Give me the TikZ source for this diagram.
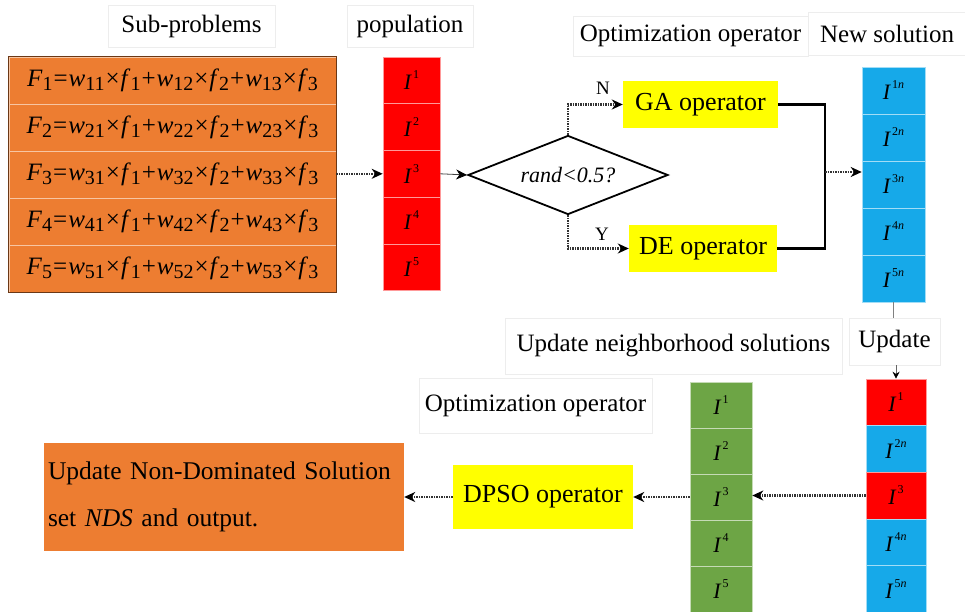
\documentclass[tikz,border=0pt]{standalone}
\usepackage{fontspec}
\setmainfont{Liberation Serif}
\usetikzlibrary{shapes.geometric,arrows.meta,calc}
\definecolor{cOrange}{HTML}{ED7D31}
\definecolor{cRed}{HTML}{FF0000}
\definecolor{cBlue}{HTML}{16A9E9}
\definecolor{cGreen}{HTML}{6DA545}
\definecolor{cYellow}{HTML}{FFFF00}
\definecolor{cDot}{HTML}{333333}
\newcommand{\Isup}[1]{\textit{I}\kern1pt\raisebox{0.5em}{\fontsize{12}{12}\selectfont #1}}
\newcommand{\sbs}[1]{\raisebox{-0.15em}{\fontsize{20}{20}\selectfont #1}}
\newcommand{\op}[1]{\kern1pt#1\kern1pt}
\begin{document}
\begin{tikzpicture}[x=1pt,y=-1pt,
  lbl/.style={draw=black!7, fill=white, font=\fontsize{25}{30}\selectfont, inner sep=0pt},
  orow/.style={fill=cOrange, draw=white!55!cOrange, line width=0.6pt, minimum width=327, minimum height=47, inner sep=0pt, font=\fontsize{25}{26}\selectfont},
  cellbox/.style={draw=white!60!#1, fill=#1, line width=0.6pt, inner sep=0pt, minimum height=46.7, font=\fontsize{22}{24}\selectfont},
  opbox/.style={fill=cYellow, inner sep=0pt, font=\fontsize{26}{30}\selectfont},
  dotarr/.style={draw=cDot, line width=2.2pt, dash pattern=on 1.5pt off 1pt, -{Stealth[length=11pt,width=10pt,inset=3.5pt,black]}},
  solarr/.style={draw=black!75, line width=0.8pt, -{Stealth[length=11pt,width=10pt,inset=3.5pt,black]}},
  yn/.style={font=\fontsize{19}{20}\selectfont, inner sep=0pt}
]
\useasboundingbox (0,0) rectangle (965,612);

% --- labels
\node[lbl, minimum width=167, minimum height=42] (Lsub) at (191.5,26) {Sub-problems};
\node[lbl, minimum width=126, minimum height=42] (Lpop) at (410,26) {population};
\node[lbl, minimum width=235, minimum height=40] (Lopt) at (690.5,36) {Optimization operator};
\node[lbl, minimum width=158, minimum height=43] (Lnew) at (887,34) {New solution};
\node[lbl, minimum width=337, minimum height=56] (Lnbr) at (673.5,346) {Update neighborhood solutions};
\node[lbl, minimum width=91, minimum height=47] (Lupd) at (894.5,341.5) {Update};
\node[lbl, minimum width=233, minimum height=55] (Lopt2) at (535.5,405.5) {Optimization operator};

% --- sub-problems
\node[orow] (f1) at (172.5,80.5) {\textit{F}\sbs{1}\op{=}\textit{w}\sbs{11}\op{×}\textit{f}\sbs{1}\op{+}\textit{w}\sbs{12}\op{×}\textit{f}\sbs{2}\op{+}\textit{w}\sbs{13}\op{×}\textit{f}\sbs{3}};
\node[orow] (f2) at (172.5,127.5) {\textit{F}\sbs{2}\op{=}\textit{w}\sbs{21}\op{×}\textit{f}\sbs{1}\op{+}\textit{w}\sbs{22}\op{×}\textit{f}\sbs{2}\op{+}\textit{w}\sbs{23}\op{×}\textit{f}\sbs{3}};
\node[orow] (f3) at (172.5,174.5) {\textit{F}\sbs{3}\op{=}\textit{w}\sbs{31}\op{×}\textit{f}\sbs{1}\op{+}\textit{w}\sbs{32}\op{×}\textit{f}\sbs{2}\op{+}\textit{w}\sbs{33}\op{×}\textit{f}\sbs{3}};
\node[orow] (f4) at (172.5,221.5) {\textit{F}\sbs{4}\op{=}\textit{w}\sbs{41}\op{×}\textit{f}\sbs{1}\op{+}\textit{w}\sbs{42}\op{×}\textit{f}\sbs{2}\op{+}\textit{w}\sbs{43}\op{×}\textit{f}\sbs{3}};
\node[orow] (f5) at (172.5,268.5) {\textit{F}\sbs{5}\op{=}\textit{w}\sbs{51}\op{×}\textit{f}\sbs{1}\op{+}\textit{w}\sbs{52}\op{×}\textit{f}\sbs{2}\op{+}\textit{w}\sbs{53}\op{×}\textit{f}\sbs{3}};
\draw[draw=black!55!cOrange, line width=0.8pt] (f1.north west) rectangle (f5.south east);

% --- population
\foreach \i/\y in {1/80.4,2/127.1,3/173.8,4/220.5,5/267.2}
  \node[cellbox=cRed, minimum width=57] (p\i) at (411.5,\y) {\Isup{\i}};

% --- decision
\node[draw, line width=1.8pt, shape=diamond, aspect=2.5, minimum width=200, minimum height=79, inner sep=0pt, font=\fontsize{22}{24}\selectfont\itshape] (dia) at (568,175) {\raisebox{-6pt}{rand<0.5?}};

\node[opbox, minimum width=155, minimum height=47] (ga) at (700.5,104.5) {GA operator};
\node[opbox, minimum width=148, minimum height=47] (de) at (703,248.5) {DE operator};

% --- new solution
\foreach \i/\y in {1/90.5,2/137.5,3/184.5,4/231.5,5/278.5}
  \node[cellbox=cBlue, minimum width=63, minimum height=47] (b\i) at (893.5,\y) {\Isup{\i\textit{n}}};

% --- updated population
\node[cellbox=cRed, minimum width=60, minimum height=46.6] (u1) at (896,402.3) {\Isup{1}};
\node[cellbox=cBlue, minimum width=60, minimum height=46.6] (u2) at (896,448.9) {\Isup{2\textit{n}}};
\node[cellbox=cRed, minimum width=60, minimum height=46.6] (u3) at (896,495.5) {\Isup{3}};
\node[cellbox=cBlue, minimum width=60, minimum height=46.6] (u4) at (896,542.1) {\Isup{4\textit{n}}};
\node[cellbox=cBlue, minimum width=60, minimum height=46.6] (u5) at (896,588.7) {\Isup{5\textit{n}}};

% --- neighborhood
\foreach \i/\y in {1/405,2/451,3/497,4/543,5/589}
  \node[cellbox=cGreen, minimum width=62, minimum height=46] (g\i) at (721,\y) {\Isup{\i}};

\node[opbox, minimum width=180, minimum height=64] (dpso) at (543,497) {DPSO operator};
\node[fill=cOrange, minimum width=360, minimum height=108, text width=352, align=left, inner sep=4pt, font=\fontsize{25.5}{47}\selectfont] (nds) at (224,497) {Update Non-Dominated Solution\\ set \textit{NDS} and output.};

% --- connectors
\draw[dotarr] (f3.east |- p3.west) -- (p3.west);
\draw[solarr] (p3.east) -- (dia.west);
\draw[dotarr] (dia.north) |- (ga.west) node[yn, pos=0.82, above=9pt] {N};
\draw[dotarr] (dia.south) |- (de.west) node[yn, pos=0.78, above=7pt] {Y};
\coordinate (j) at (825,172);
\draw[line width=2.4pt, line join=miter] (ga.east) -| (j) |- (de.east);
\draw[dotarr] (j) -- (j -| b3.west);
\draw[draw=black!50, line width=0.8pt] (b5.south) -- (b5.south |- Lupd.north);
\draw[draw=black!60, line width=0.8pt, -{Stealth[length=7pt,width=7pt,black]}] (Lupd.south -| u1.north) -- (u1.north);
\draw[dotarr] (u3.west) -- (u3.west -| g3.east);
\draw[dotarr] (g3.west) -- (g3.west -| dpso.east);
\draw[dotarr] (dpso.west) -- (dpso.west -| nds.east);
\end{tikzpicture}
\end{document}
